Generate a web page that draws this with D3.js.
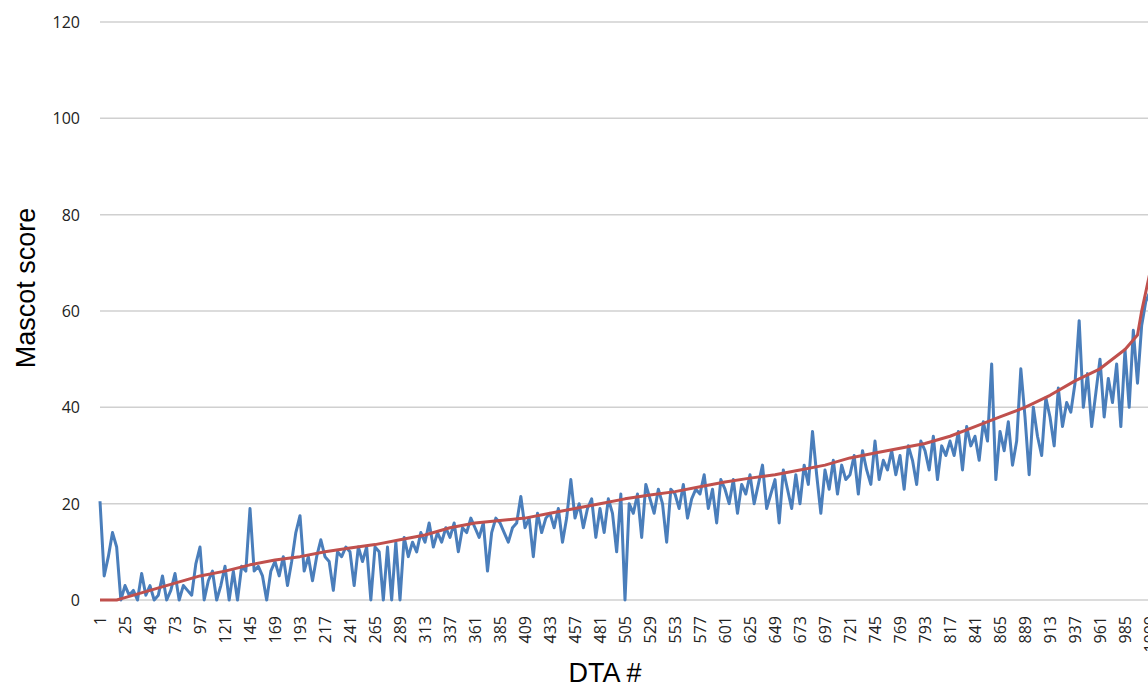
<!DOCTYPE html>
<html><head><meta charset="utf-8">
<script src="https://cdn.jsdelivr.net/npm/d3@7"></script>
<style>body{margin:0;background:#fff}svg{display:block}</style>
</head><body>
<svg id="chart" width="1148" height="690"></svg>
<script>
// blue series: Mascot score read every 4th DTA # (1,5,9,...,1009)
const blueStep = 4;
const blueValues = [
  20.5,5,9,14,11,0, 3,1,2,0,5.5,1, 3,0,1,5,0,2, 5.5,0,3,2,1,7.5,
  11,0,4,6,0,3, 7,0,6,0,7,6, 19,6,7,5,0,6, 8,5,9,3,8,14,
  17.5,6,9,4,9,12.5, 9,8,2,10,9,11, 10,3,11,8,11,0, 11,10,0,11,0,12,
  0,13,9,12,10,14, 12,16,11,14,12,15, 13,16,10,15,14,17, 15,13,16,6,14,17,
  16,14,12,15,16,21.5, 15,17,9,18,14,17, 18,15,19,12,17,25, 17,20,15,19,21,13,
  19,14,21,18,10,22, 0,20,18,22,13,24, 21,18,23,20,12,23, 22,19,24,17,21,23,
  22,26,19,23,16,25, 23,20,25,18,24,22, 26,20,24,28,19,22, 25,16,27,23,19,26,
  20,28,24,35,26,18, 27,23,29,22,28,25, 26,30,22,31,27,24, 33,25,29,27,31,26,
  30,23,32,29,24,33, 31,27,34,25,32,30, 33,30,35,27,36,32, 34,29,37,33,49,25,
  35,31,37,28,33,48, 38,26,40,34,30,42, 38,32,44,36,41,39, 45,58,40,47,36,43,
  50,38,46,41,49,36, 52,40,56,45,57,62, 64
];
// red series (sorted reference score)
const redIdx = [1,17,25,49,73,97,121,145,169,193,217,241,265,289,313,337,361,385,409,433,457,481,505,529,553,577,601,625,649,673,697,721,745,769,793,817,841,865,889,913,937,961,985,997,1001,1005,1009,1012];
const redValues = [0,0,0.5,2,3.5,5,6,7.3,8.3,9,10,10.8,11.5,12.5,13.5,15,16,16.5,17,18,19,20,21,21.8,22.5,23.5,24.5,25.3,26,27,28,29.5,30.5,31.5,32.5,34,36,38,40,42.5,45.5,48,52,55,60,64,68,71];
const yTicks = [0,20,40,60,80,100,120];
const xTickStart = 1, xTickStep = 24, xTickEnd = 1009;

const svg = d3.select("#chart");
const x = d3.scaleLinear().domain([1, 1009]).range([100, 1150]);
const y = d3.scaleLinear().domain([0, 120]).range([600, 22]);

const blue = blueValues.map((v, i) => ({ i: 1 + i * blueStep, v }));
const red = redIdx.map((i, k) => ({ i, v: redValues[k] }));

// grid
svg.append("g").selectAll("line").data(yTicks).join("line")
  .attr("x1", 100).attr("x2", 1148)
  .attr("y1", d => y(d)).attr("y2", d => y(d))
  .attr("stroke", "#d0d0d0").attr("stroke-width", 1.5);

svg.append("g").selectAll("text").data(yTicks).join("text")
  .attr("x", 80).attr("y", d => y(d) + 6)
  .attr("text-anchor", "end")
  .attr("font-family", "Open Sans, sans-serif").attr("font-size", 16).attr("fill", "#222")
  .text(d => d);

const xTicks = d3.range(xTickStart, xTickEnd + 1, xTickStep);
svg.append("g").selectAll("text").data(xTicks).join("text")
  .attr("transform", d => `translate(${x(d) + 6},616) rotate(-90)`)
  .attr("text-anchor", "end")
  .attr("font-family", "Open Sans, sans-serif").attr("font-size", 16).attr("fill", "#222")
  .text(d => d);

const line = d3.line().x(d => x(d.i)).y(d => y(d.v));
svg.append("path").datum(blue).attr("d", line)
  .attr("fill", "none").attr("stroke", "#4a7ebb").attr("stroke-width", 3)
  .attr("stroke-linejoin", "round");
svg.append("path").datum(red).attr("d", line)
  .attr("fill", "none").attr("stroke", "#c0504d").attr("stroke-width", 3)
  .attr("stroke-linejoin", "round");

svg.append("text")
  .attr("transform", "translate(35,288) rotate(-90)")
  .attr("text-anchor", "middle")
  .attr("font-family", "Liberation Sans, Arial, sans-serif").attr("font-size", 27)
  .text("Mascot score");
svg.append("text")
  .attr("x", 605).attr("y", 682)
  .attr("text-anchor", "middle")
  .attr("font-family", "Liberation Sans, Arial, sans-serif").attr("font-size", 27)
  .text("DTA #");
</script>
</body></html>
